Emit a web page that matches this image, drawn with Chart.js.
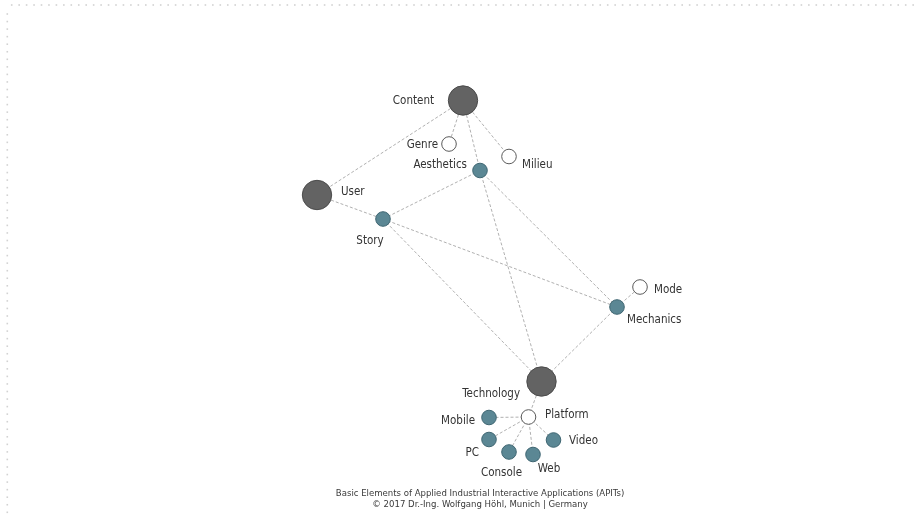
<!DOCTYPE html>
<html>
<head>
<meta charset="utf-8">
<script src="https://cdn.jsdelivr.net/npm/chart.js@4/dist/chart.umd.min.js"></script>
<style>
html,body{margin:0;padding:0;background:#fff;}
#wrap{width:917px;height:519px;position:relative;}
</style>
</head>
<body>
<div id="wrap"><canvas id="c" width="917" height="519"></canvas></div>
<script>
// ---- data ----
const nodeNames = ['Content','User','Technology','Genre','Milieu','Aesthetics','Story','Mechanics','Mode','Platform','Mobile','PC','Console','Web','Video'];
const nodeX = [463, 317, 541.5, 449, 509, 480, 383, 617, 640, 528.5, 489, 489, 509, 533, 553.5];
const nodeY = [100.5, 195, 381.5, 144, 156.5, 170.5, 219, 307, 287, 417, 417.5, 439.5, 452, 454.5, 440];
const nodeKind = ['core','core','core','attr','attr','elem','elem','elem','attr','attr','elem','elem','elem','elem','elem'];
const edgeFrom = ['Content','Content','Content','Content','User','Aesthetics','Aesthetics','Aesthetics','Story','Story','Mechanics','Mechanics','Technology','Platform','Platform','Platform','Platform','Platform'];
const edgeTo   = ['User','Genre','Aesthetics','Milieu','Story','Story','Technology','Mechanics','Technology','Mechanics','Technology','Mode','Platform','Mobile','PC','Console','Web','Video'];
const footerLines = ['Basic Elements of Applied Industrial Interactive Applications (APITs)', '\u00A9 2017 Dr.-Ing. Wolfgang H\u00F6hl, Munich | Germany'];

// ---- styles (label placement relative to node, in px) ----
const labelStyle = {
  Content:[-29,1,'right'], Genre:[-11,0.7,'right'], Aesthetics:[-13,-5.5,'right'], Milieu:[13,8.5,'left'],
  User:[24,-3.3,'left'], Story:[-13,21.7,'center'], Mode:[14,3,'left'], Mechanics:[10,13,'left'],
  Technology:[-21.5,12.5,'right'], Platform:[16.5,-1.7,'left'], Mobile:[-14,3.2,'right'], PC:[-10,13.8,'right'],
  Console:[-7.5,21.3,'center'], Web:[16,14.2,'center'], Video:[15.5,1,'left']
};
const kindStyle = {
  core:{r:14.7, fill:'#636363', stroke:'#4b4b4b'},
  elem:{r:7.3, fill:'#5b8794', stroke:'#3f6672'},
  attr:{r:7.3, fill:'#ffffff', stroke:'#5a5a5a'}
};
const FONT = '"DejaVu Sans Condensed","Liberation Sans",sans-serif';

const idx = n => nodeNames.indexOf(n);
const datasets = [];
edgeFrom.forEach((f,i)=>{
  const a = idx(f), b = idx(edgeTo[i]);
  datasets.push({
    type:'line', data:[{x:nodeX[a],y:nodeY[a]},{x:nodeX[b],y:nodeY[b]}],
    showLine:true, pointRadius:0, borderColor:'#9c9c9c', borderWidth:0.8,
    borderDash:[3,2], fill:false, order:2, clip:false
  });
});
['attr','elem','core'].forEach(k=>{
  const pts = [];
  nodeNames.forEach((n,i)=>{ if(nodeKind[i]===k) pts.push({x:nodeX[i],y:nodeY[i],name:n}); });
  const s = kindStyle[k];
  datasets.push({
    type:'scatter', data:pts, pointRadius:s.r, pointBackgroundColor:s.fill,
    pointBorderColor:s.stroke, pointBorderWidth:1, order:1, clip:false, showLine:false
  });
});

const decor = {
  id:'decor',
  beforeDraw(chart){
    const ctx = chart.ctx;
    ctx.save();
    ctx.fillStyle = '#d2d2d2';
    for(let x=11.7; x<917; x+=7.45){ ctx.fillRect(x-0.8,4.2,1.6,1.6); }
    for(let y=14; y<519; y+=7.55){ ctx.fillRect(6.5,y-0.8,1.6,1.6); }
    ctx.restore();
  },
  afterDatasetsDraw(chart){
    const ctx = chart.ctx, xs = chart.scales.x, ys = chart.scales.y;
    ctx.save();
    ctx.font = '11.5px ' + FONT;
    ctx.fillStyle = '#333333';
    ctx.textBaseline = 'middle';
    nodeNames.forEach((n,i)=>{
      const st = labelStyle[n];
      ctx.textAlign = st[2];
      ctx.fillText(n, xs.getPixelForValue(nodeX[i]) + st[0], ys.getPixelForValue(nodeY[i]) + st[1]);
    });
    ctx.font = '9.5px ' + FONT;
    ctx.textAlign = 'center';
    ctx.fillStyle = '#3a3a3a';
    const cx = chart.chartArea.left + (chart.chartArea.right - chart.chartArea.left) * 0.5235;
    footerLines.forEach((t,i)=> ctx.fillText(t, cx, 493.5 + i*11.5));
    ctx.restore();
  }
};

new Chart(document.getElementById('c'), {
  type:'scatter',
  data:{datasets},
  options:{
    responsive:false, animation:false,
    layout:{padding:0, autoPadding:false},
    plugins:{legend:{display:false}, tooltip:{enabled:false}, title:{display:false}},
    scales:{
      x:{type:'linear', min:0, max:917, display:false},
      y:{type:'linear', min:0, max:519, reverse:true, display:false}
    }
  },
  plugins:[decor]
});
</script>
</body>
</html>
